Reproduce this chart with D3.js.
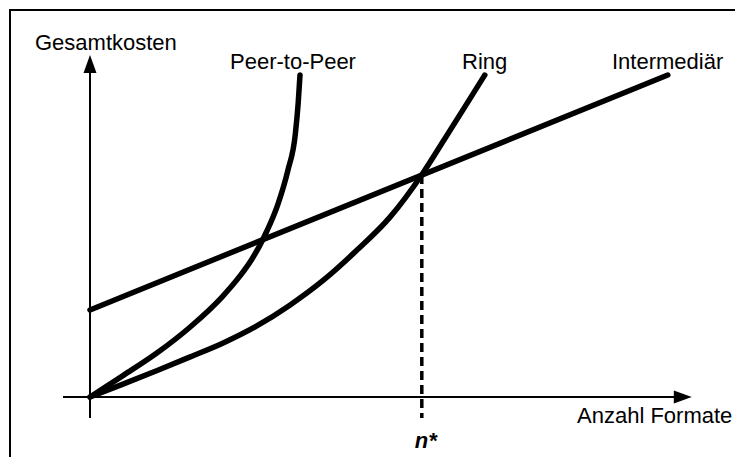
<!DOCTYPE html>
<html>
<head>
<meta charset="utf-8">
<script src="https://cdn.jsdelivr.net/npm/d3@7"></script>
<style>
  html, body { margin: 0; padding: 0; background: #fff; }
  svg { display: block; font-family: "Liberation Sans", Arial, sans-serif; }
</style>
</head>
<body>
<svg id="chart" width="735" height="457"></svg>
<script>
// Kurvenpunkte (Anzahl Formate, Gesamtkosten) in abstrakten Einheiten 0..100
const peerToPeer = [
    [0, 0], [5.5, 6.3], [11.2, 13.0], [16.7, 20.6], [22.0, 29.4], [25.0, 35.6],
    [27.0, 40.6], [28.3, 44.6], [29.5, 48.9], [31.3, 56.6], [33.0, 66.8],
    [34.2, 77.0], [34.7, 86.5], [35.0, 94.7]
];
const ring = [
    [0, 0], [5.5, 3.8], [11.2, 7.8], [16.7, 11.8], [22.2, 15.9], [27.8, 20.9],
    [33.3, 27.0], [38.8, 34.2], [44.5, 43.2], [50.0, 52.9], [55.5, 65.9],
    [59.0, 75.6], [62.5, 85.4], [65.8, 94.7]
];
const intermediaer = [[0, 25.6], [96.3, 94.7]];
const nStar = 55.3;

const seriesLabels = [
    { name: 'Peer-to-Peer', x: 230 },
    { name: 'Ring', x: 462 },
    { name: 'Intermediär', x: 612 }
];

const svg = d3.select('#chart');

// Rahmen (rechts/unten ausserhalb des Bildes)
svg.append('rect')
    .attr('x', 10).attr('y', 10)
    .attr('width', 800).attr('height', 500)
    .attr('fill', 'none')
    .attr('stroke', '#000')
    .attr('stroke-width', 2);

const xScale = d3.scaleLinear().domain([0, 100]).range([90, 690]);
const yScale = d3.scaleLinear().domain([0, 100]).range([397, 57]);

// Achsen
const xAxisExtent = [-4.5, 100.3];
const yAxisExtent = [-6.2, 100.6];

svg.append('line')
    .attr('x1', xScale(xAxisExtent[0])).attr('x2', xScale(xAxisExtent[1]) - 10)
    .attr('y1', yScale(0)).attr('y2', yScale(0))
    .attr('stroke', '#000').attr('stroke-width', 2);

svg.append('line')
    .attr('x1', xScale(0)).attr('x2', xScale(0))
    .attr('y1', yScale(yAxisExtent[0])).attr('y2', yScale(yAxisExtent[1]) + 10)
    .attr('stroke', '#000').attr('stroke-width', 2);

// Pfeilspitzen
const xTip = [xScale(xAxisExtent[1]), yScale(0)];
svg.append('path')
    .attr('d', `M${xTip[0]},${xTip[1]} L${xTip[0] - 18},${xTip[1] - 6.5} L${xTip[0] - 18},${xTip[1] + 6.5} Z`)
    .attr('fill', '#000');

const yTip = [xScale(0), yScale(yAxisExtent[1])];
svg.append('path')
    .attr('d', `M${yTip[0]},${yTip[1]} L${yTip[0] - 6.5},${yTip[1] + 18} L${yTip[0] + 6.5},${yTip[1] + 18} Z`)
    .attr('fill', '#000');

// n* Hilfslinie
const slope = (intermediaer[1][1] - intermediaer[0][1]) / (intermediaer[1][0] - intermediaer[0][0]);
const nStarCost = intermediaer[0][1] + slope * nStar;
svg.append('line')
    .attr('x1', xScale(nStar)).attr('x2', xScale(nStar))
    .attr('y1', yScale(nStarCost)).attr('y2', yScale(yAxisExtent[0]))
    .attr('stroke', '#000')
    .attr('stroke-width', 3.5)
    .attr('stroke-dasharray', '9,5');

// Kurven
const line = d3.line()
    .x(d => xScale(d[0]))
    .y(d => yScale(d[1]))
    .curve(d3.curveMonotoneX);

[peerToPeer, ring, intermediaer].forEach(data => {
    svg.append('path')
        .datum(data)
        .attr('d', line)
        .attr('fill', 'none')
        .attr('stroke', '#000')
        .attr('stroke-width', 5.5)
        .attr('stroke-linecap', 'round')
        .attr('stroke-linejoin', 'round');
});

// Beschriftungen
svg.selectAll('.series-label')
    .data(seriesLabels)
    .enter().append('text')
    .attr('class', 'series-label')
    .attr('x', d => d.x)
    .attr('y', 69)
    .style('font-size', '22px')
    .text(d => d.name);

svg.append('text')
    .attr('x', 35).attr('y', 50)
    .style('font-size', '22px')
    .text('Gesamtkosten');

svg.append('text')
    .attr('x', 577).attr('y', 423)
    .style('font-size', '22px')
    .text('Anzahl Formate');

svg.append('text')
    .attr('x', xScale(nStar) - 7).attr('y', 448)
    .style('font-size', '22px')
    .style('font-weight', 'bold')
    .style('font-style', 'italic')
    .text('n*');
</script>
</body>
</html>
